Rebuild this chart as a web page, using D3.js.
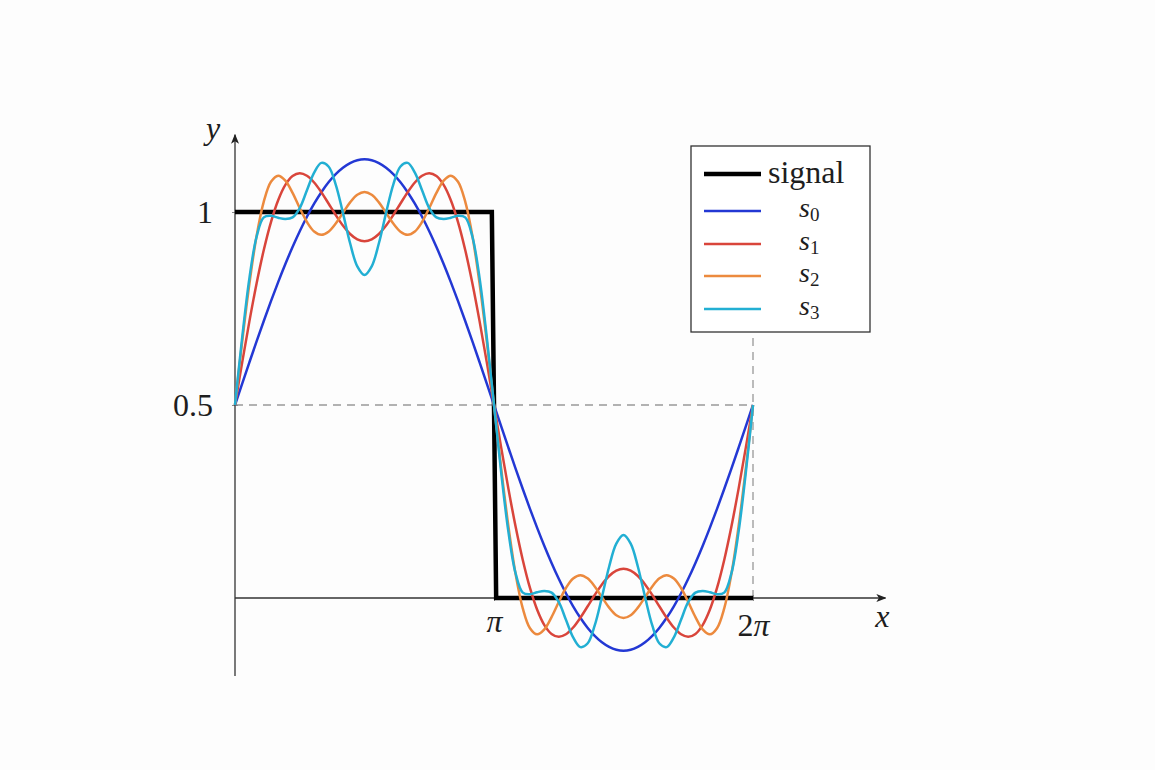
<!DOCTYPE html>
<html>
<head>
<meta charset="utf-8">
<script src="https://cdn.jsdelivr.net/npm/d3@7"></script>
<style>
  html, body { margin: 0; padding: 0; background: #fdfdfd; }
  svg { display: block; }
  text { font-family: "Liberation Serif", "Times New Roman", serif; fill: #1e1e1e; }
</style>
</head>
<body>
<svg id="chart" width="1155" height="770"></svg>
<script>
// ---- data (x in degrees, 180 = π, 360 = 2π) ----
const xDeg = [0,5,10,15,20,25,30,35,40,45,50,55,60,65,70,75,80,85,90,
  95,100,105,110,115,120,125,130,135,140,145,150,155,160,165,170,175,180,
  185,190,195,200,205,210,215,220,225,230,235,240,245,250,255,260,265,270,
  275,280,285,290,295,300,305,310,315,320,325,330,335,340,345,350,355,360];

const s0 = [0.5,0.5555,0.6105,0.6648,0.7177,0.7690,0.8183,0.8652,0.9092,0.9502,0.9877,1.0215,1.0513,1.0770,1.0982,1.1149,1.1269,1.1342,1.1366,
  1.1342,1.1269,1.1149,1.0982,1.0770,1.0513,1.0215,0.9877,0.9502,0.9092,0.8652,0.8183,0.7690,0.7177,0.6648,0.6105,0.5555,0.5,
  0.4445,0.3895,0.3352,0.2823,0.2310,0.1817,0.1348,0.0908,0.0498,0.0123,-0.0215,-0.0513,-0.0770,-0.0982,-0.1149,-0.1269,-0.1342,-0.1366,
  -0.1342,-0.1269,-0.1149,-0.0982,-0.0770,-0.0513,-0.0215,0.0123,0.0498,0.0908,0.1348,0.1817,0.2310,0.2823,0.3352,0.3895,0.4445,0.5];

const s1 = [0.5,0.6104,0.7166,0.8149,0.9015,0.9740,1.0305,1.0702,1.0930,1.1003,1.0938,1.0764,1.0513,1.0221,0.9921,0.9648,0.9431,0.9292,0.9244,
  0.9292,0.9431,0.9648,0.9921,1.0221,1.0513,1.0764,1.0938,1.1003,1.0930,1.0702,1.0305,0.9740,0.9015,0.8149,0.7166,0.6104,0.5,
  0.3896,0.2834,0.1851,0.0985,0.0260,-0.0305,-0.0702,-0.0930,-0.1003,-0.0938,-0.0764,-0.0513,-0.0221,0.0079,0.0352,0.0569,0.0708,0.0756,
  0.0708,0.0569,0.0352,0.0079,-0.0221,-0.0513,-0.0764,-0.0938,-0.1003,-0.0930,-0.0702,-0.0305,0.0260,0.0985,0.1851,0.2834,0.3896,0.5];

const s2 = [0.5,0.6642,0.8141,0.9379,1.0269,1.0783,1.0942,1.0813,1.0495,1.0103,0.9742,0.9496,0.9410,0.9491,0.9700,0.9978,1.0249,1.0446,1.0517,
  1.0446,1.0249,0.9978,0.9700,0.9491,0.9410,0.9496,0.9742,1.0103,1.0495,1.0813,1.0942,1.0783,1.0269,0.9379,0.8141,0.6642,0.5,
  0.3358,0.1859,0.0621,-0.0269,-0.0783,-0.0942,-0.0813,-0.0495,-0.0103,0.0258,0.0504,0.0590,0.0509,0.0300,0.0022,-0.0249,-0.0446,-0.0517,
  -0.0446,-0.0249,0.0022,0.0300,0.0509,0.0590,0.0504,0.0258,-0.0103,-0.0495,-0.0813,-0.0942,-0.0783,-0.0269,0.0621,0.1859,0.3358,0.5];

const s3 = [0.5,0.6750,0.8280,0.9360,0.9860,0.9900,0.9850,0.9820,0.9860,1.0103,1.0565,1.1021,1.1272,1.1179,1.0710,0.9978,0.9190,0.8591,0.8367,
  0.8591,0.9190,0.9978,1.0710,1.1179,1.1272,1.1021,1.0565,1.0103,0.9860,0.9820,0.9850,0.9900,0.9860,0.9360,0.8280,0.6750,0.5,
  0.3250,0.1720,0.0640,0.0140,0.0100,0.0150,0.0180,0.0140,-0.0103,-0.0565,-0.1021,-0.1272,-0.1179,-0.0710,0.0022,0.0810,0.1409,0.1633,
  0.1409,0.0810,0.0022,-0.0710,-0.1179,-0.1272,-0.1021,-0.0565,-0.0103,0.0140,0.0180,0.0150,0.0100,0.0140,0.0640,0.1720,0.3250,0.5];

const signalX = [0, 178.5, 181.5, 360];
const signalY = [1, 1, 0, 0];

const seriesNames = ["s0", "s1", "s2", "s3"];
const seriesValues = [s0, s1, s2, s3];
const seriesColors = ["#2338d4", "#d9453b", "#ec8a3e", "#22afd3"];

const xTickValues = [180, 360];
const xTickPrefix = ["", "2"];
const yTickValues = [0.5, 1];
const yTickLabels = ["0.5", "1"];

// ---- scales ----
const svg = d3.select("#chart");
const x = d3.scaleLinear().domain([0, 360]).range([235, 753]);
const y = d3.scaleLinear().domain([0, 1]).range([598, 212]);

// arrow marker
const defs = svg.append("defs");
defs.append("marker")
  .attr("id", "arrow").attr("viewBox", "0 0 10 10")
  .attr("refX", 9).attr("refY", 5)
  .attr("markerWidth", 10).attr("markerHeight", 10)
  .attr("markerUnits", "userSpaceOnUse")
  .attr("orient", "auto")
  .append("path").attr("d", "M0,1 L10,5 L0,9 L2.5,5 Z").attr("fill", "#222");

// dashed helper lines
svg.append("line")
  .attr("x1", x(0)).attr("x2", x(360)).attr("y1", y(0.5)).attr("y2", y(0.5))
  .attr("stroke", "#999").attr("stroke-width", 1.3).attr("stroke-dasharray", "8,6");
svg.append("line")
  .attr("x1", x(360)).attr("x2", x(360)).attr("y1", y(0)).attr("y2", y(1.1))
  .attr("stroke", "#999").attr("stroke-width", 1.3).attr("stroke-dasharray", "8,6");

// axes
const xAxis = d3.axisBottom(x).tickValues(xTickValues)
  .tickFormat(() => "").tickSizeInner(3).tickSizeOuter(0);
const gx = svg.append("g").attr("transform", `translate(0,${y(0)})`).call(xAxis);
gx.select(".domain").remove();
gx.selectAll(".tick line").attr("stroke", "#888").attr("y1", -3).attr("y2", 3);
gx.selectAll(".tick text").each(function(d, i) {
  const t = d3.select(this)
    .attr("font-family", "Liberation Serif, serif").attr("font-size", 32).attr("fill", "#1e1e1e")
    .attr("dy", null).attr("y", i === 0 ? 34 : 38);
  t.append("tspan").text(xTickPrefix[i]);
  t.append("tspan").attr("font-style", "italic").text("π");
});

const yAxis = d3.axisLeft(y).tickValues(yTickValues)
  .tickFormat((d, i) => yTickLabels[i]).tickSizeInner(3).tickSizeOuter(0).tickPadding(19);
const gy = svg.append("g").attr("transform", `translate(${x(0)},0)`).call(yAxis);
gy.select(".domain").remove();
gy.selectAll(".tick line").attr("stroke", "#888").attr("x1", -3).attr("x2", 3);
gy.selectAll(".tick text")
  .attr("font-family", "Liberation Serif, serif").attr("font-size", 32).attr("fill", "#1e1e1e");

// axis lines with arrows
svg.append("line")
  .attr("x1", x(0)).attr("x2", x(452)).attr("y1", y(0)).attr("y2", y(0))
  .attr("stroke", "#333").attr("stroke-width", 1.3).attr("marker-end", "url(#arrow)");
svg.append("line")
  .attr("x1", x(0)).attr("x2", x(0)).attr("y1", y(-0.202)).attr("y2", y(1.2))
  .attr("stroke", "#333").attr("stroke-width", 1.3).attr("marker-end", "url(#arrow)");

svg.append("text").attr("x", x(452) - 3).attr("y", y(0) + 29)
  .attr("text-anchor", "middle").attr("font-style", "italic").attr("font-size", 32).text("x");
svg.append("text").attr("x", x(0) - 22).attr("y", y(1.2) + 4)
  .attr("text-anchor", "middle").attr("font-style", "italic").attr("font-size", 32).text("y");

// signal
const signalData = signalX.map((d, i) => [d, signalY[i]]);
svg.append("path").datum(signalData)
  .attr("fill", "none").attr("stroke", "#000").attr("stroke-width", 4.5)
  .attr("stroke-linejoin", "miter")
  .attr("d", d3.line().x(d => x(d[0])).y(d => y(d[1])));

// approximations
const line = d3.line().x(d => x(d[0])).y(d => y(d[1])).curve(d3.curveCatmullRom.alpha(0.5));
seriesValues.forEach((vals, k) => {
  svg.append("path").datum(xDeg.map((d, i) => [d, vals[i]]))
    .attr("fill", "none").attr("stroke", seriesColors[k]).attr("stroke-width", 2.5)
    .attr("stroke-linejoin", "round")
    .attr("d", line);
});

// legend
const lg = svg.append("g");
lg.append("rect").attr("x", 691).attr("y", 146).attr("width", 179).attr("height", 186)
  .attr("fill", "#fff").attr("stroke", "#333").attr("stroke-width", 1.3);
lg.append("line").attr("x1", 704).attr("x2", 761).attr("y1", 174).attr("y2", 174)
  .attr("stroke", "#000").attr("stroke-width", 4.5);
lg.append("text").attr("x", 768).attr("y", 183).attr("font-size", 32).text("signal");
const rowY = [211, 244, 276, 309];
seriesNames.forEach((name, k) => {
  lg.append("line").attr("x1", 704).attr("x2", 761).attr("y1", rowY[k]).attr("y2", rowY[k])
    .attr("stroke", seriesColors[k]).attr("stroke-width", 2.5);
  const t = lg.append("text").attr("x", 799).attr("y", rowY[k] + 6).attr("font-size", 28);
  t.append("tspan").attr("font-style", "italic").text("s");
  t.append("tspan").attr("font-size", 19).attr("dy", 4).text(name.slice(1));
});
</script>
</body>
</html>
